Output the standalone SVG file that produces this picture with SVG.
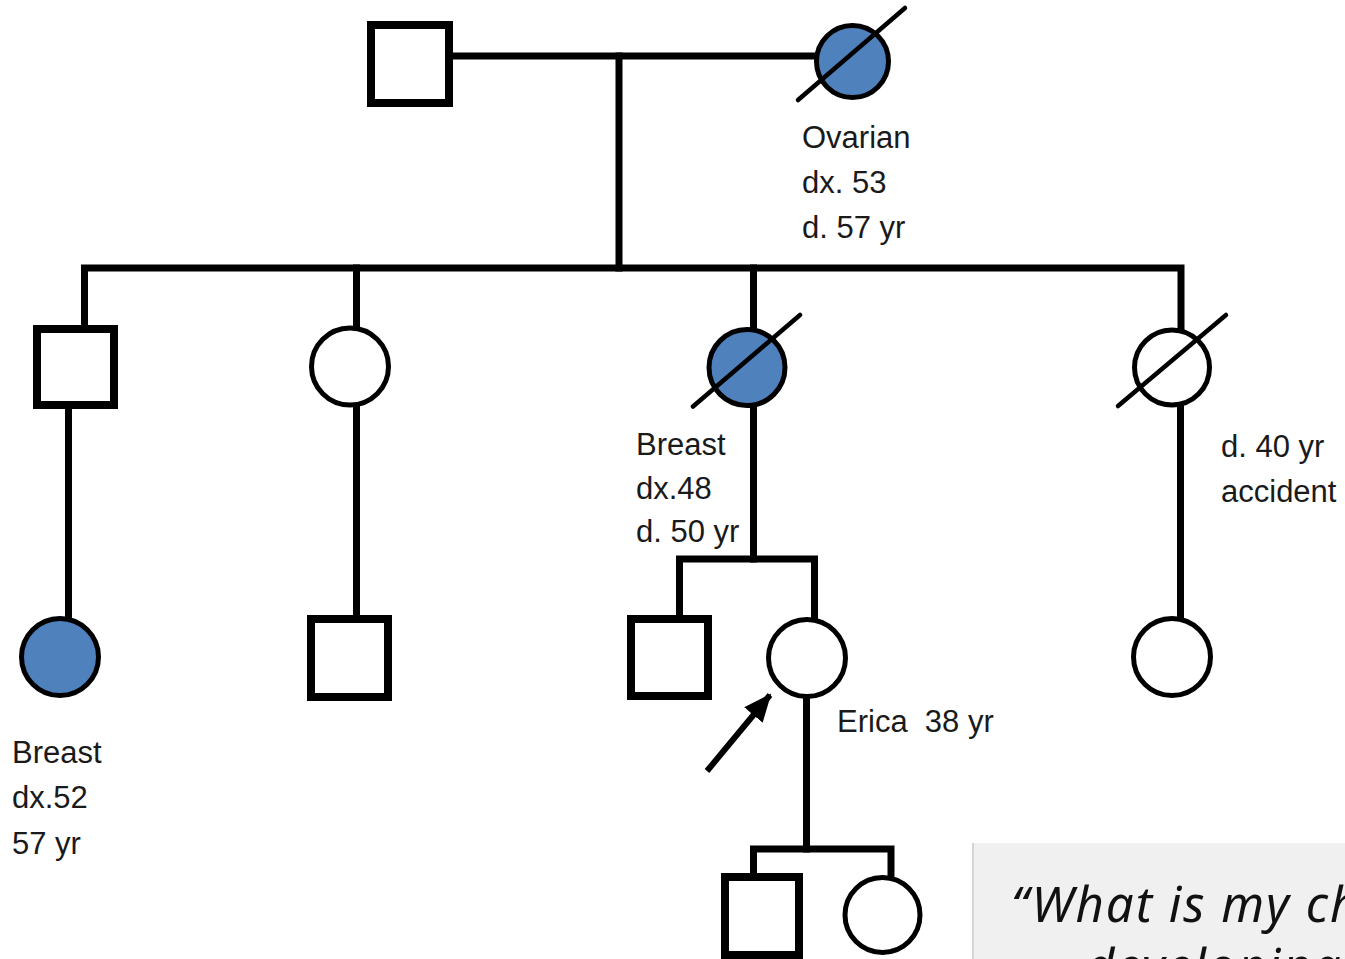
<svg xmlns="http://www.w3.org/2000/svg" width="1345" height="959" viewBox="0 0 1345 959">
  <style>
    .line { stroke: #000; stroke-width: 7; fill: none; stroke-linecap: square; }
    .male { fill: #fff; stroke: #000; stroke-width: 8; }
    .female { fill: #fff; stroke: #000; stroke-width: 5; }
    .affected { fill: #4f81bd; }
    .dead { stroke: #000; stroke-width: 4.5; stroke-linecap: round; }
    .label { font-family: "Liberation Sans", Arial, sans-serif; font-size: 31px; fill: #1a1a1a; white-space: pre; }
    .quote { font-family: "Segoe Print", "Bradley Hand", "Noto Sans", cursive; font-style: italic; font-size: 49px; letter-spacing: 2px; fill: #111; }
  </style>
  <defs>
    <marker id="arrowhead" markerUnits="userSpaceOnUse" markerWidth="28" markerHeight="28" viewBox="0 0 28 28" refX="26" refY="14" orient="auto">
      <path d="M0,2 L28,14 L0,26 Z" fill="#000"/>
    </marker>
  </defs>

  <rect width="1345" height="959" fill="#fff"/>

  <!-- lines of descent and marriage -->
  <g id="connectors">
    <path class="line" d="M453,56 H814"/>
    <path class="line" d="M619,56 V268"/>
    <path class="line" d="M84.5,325 V268 H1181 V328"/>
    <path class="line" d="M356.5,268 V326"/>
    <path class="line" d="M753.5,268 V328"/>
    <path class="line" d="M68.5,409 V616"/>
    <path class="line" d="M356.5,407 V615"/>
    <path class="line" d="M1180.5,407 V618"/>
    <path class="line" d="M753.5,407 V559"/>
    <path class="line" d="M679.5,615 V559 H814.5 V617"/>
    <path class="line" d="M806.5,699 V849"/>
    <path class="line" d="M753.5,873 V849 H891 V876"/>
  </g>

  <!-- generation I -->
  <g id="grandfather">
    <rect class="male" x="371" y="25" width="78" height="78"/>
  </g>
  <g id="grandmother">
    <circle class="female affected" cx="852.5" cy="61.5" r="36"/>
    <line class="dead" x1="798" y1="100" x2="905" y2="8"/>
    <text class="label" x="802" y="148">Ovarian</text>
    <text class="label" x="802" y="193">dx. 53</text>
    <text class="label" x="802" y="238">d. 57 yr</text>
  </g>

  <!-- generation II -->
  <g id="uncle">
    <rect class="male" x="37" y="329" width="77" height="76"/>
  </g>
  <g id="aunt">
    <circle class="female" cx="350" cy="366.5" r="38.5"/>
  </g>
  <g id="mother">
    <circle class="female affected" cx="747" cy="367.5" r="38"/>
    <line class="dead" x1="693" y1="406.5" x2="800" y2="315"/>
    <text class="label" x="636" y="455">Breast</text>
    <text class="label" x="636" y="499">dx.48</text>
    <text class="label" x="636" y="542">d. 50 yr</text>
  </g>
  <g id="aunt-accident">
    <circle class="female" cx="1172" cy="367.5" r="37.5"/>
    <line class="dead" x1="1118" y1="406" x2="1226" y2="315"/>
    <text class="label" x="1221" y="457">d. 40 yr</text>
    <text class="label" x="1221" y="502">accident</text>
  </g>

  <!-- generation III -->
  <g id="cousin-1">
    <circle class="female affected" cx="60" cy="657" r="38.5"/>
    <text class="label" x="12" y="763">Breast</text>
    <text class="label" x="12" y="808">dx.52</text>
    <text class="label" x="12" y="854">57 yr</text>
  </g>
  <g id="cousin-2">
    <rect class="male" x="311" y="619" width="77" height="78"/>
  </g>
  <g id="brother">
    <rect class="male" x="631" y="619" width="77" height="77"/>
  </g>
  <g id="erica">
    <circle class="female" cx="807" cy="658" r="38.5"/>
    <line x1="707" y1="771" x2="770" y2="695" stroke="#000" stroke-width="6" marker-end="url(#arrowhead)"/>
    <text class="label" x="837" y="732" xml:space="preserve">Erica  38 yr</text>
  </g>
  <g id="cousin-3">
    <circle class="female" cx="1172" cy="657" r="38.5"/>
  </g>

  <!-- generation IV -->
  <g id="son">
    <rect class="male" x="725" y="877" width="74" height="78"/>
  </g>
  <g id="daughter">
    <circle class="female" cx="882.5" cy="915" r="37.5"/>
  </g>

  <!-- question panel -->
  <g id="question">
    <rect x="972" y="843" width="380" height="130" fill="#f0f0f0"/>
    <line x1="973" y1="843" x2="973" y2="959" stroke="#d6d6d6" stroke-width="2"/>
    <text class="quote" x="1011" y="922">“What is my chance of</text>
    <text class="quote" x="1086" y="984">developing cancer?”</text>
  </g>
</svg>
